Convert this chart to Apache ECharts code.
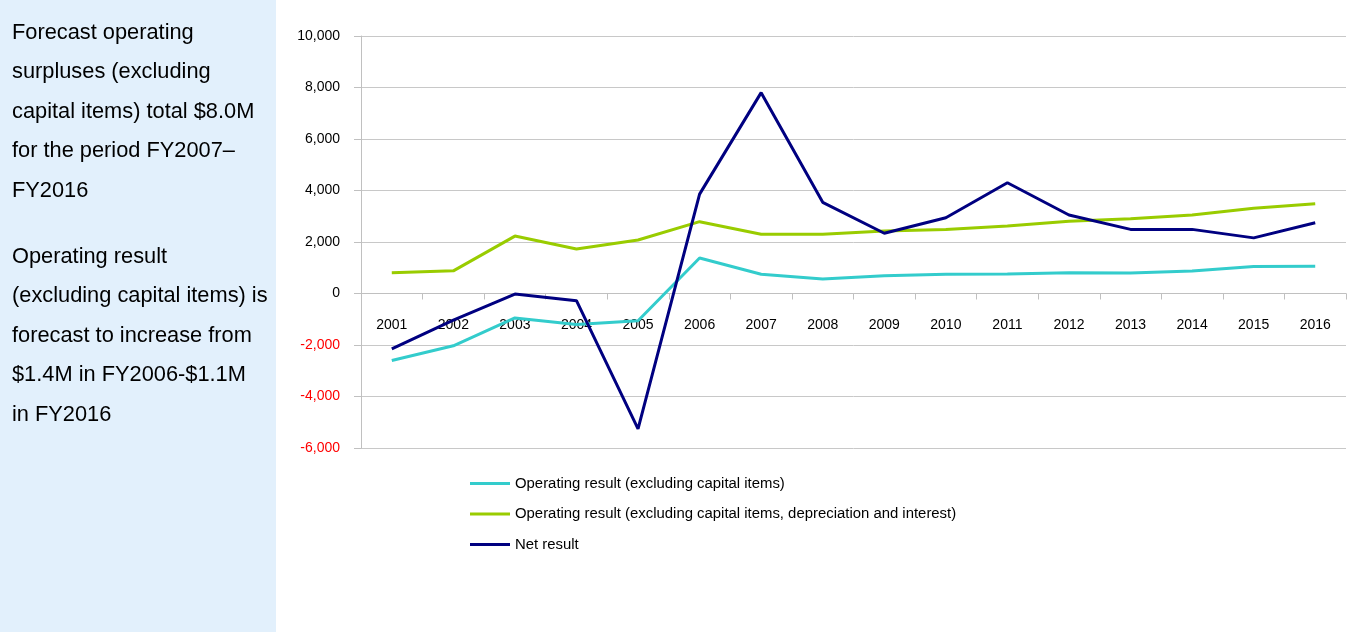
<!DOCTYPE html>
<html>
<head>
<meta charset="utf-8">
<script src="https://cdn.jsdelivr.net/npm/echarts@6/dist/echarts.min.js"></script>
<style>
  html, body { margin: 0; padding: 0; background: #ffffff; }
  #chart { width: 1351px; height: 632px; }
</style>
</head>
<body>
<div id="chart"></div>
<script>
// Financial years along the x-axis
const years = ['2001','2002','2003','2004','2005','2006','2007','2008','2009','2010','2011','2012','2013','2014','2015','2016'];

// Results in $'000
const operatingResult = [-2600, -2030, -950, -1200, -1060, 1380, 750, 560, 690, 750, 760, 810, 800, 870, 1050, 1060];
const operatingResultExDepInt = [810, 880, 2230, 1730, 2080, 2790, 2300, 2300, 2430, 2490, 2620, 2810, 2900, 3050, 3310, 3490];
const netResult = [-2150, -1030, -20, -280, -5260, 3860, 7800, 3540, 2340, 2940, 4300, 3050, 2490, 2490, 2160, 2750];

const seriesNames = [
  'Operating result (excluding capital items)',
  'Operating result (excluding capital items, depreciation and interest)',
  'Net result'
];
const seriesColors = ['#33CCCC', '#99CC00', '#000080'];

// Commentary shown in the side panel
const notes = [
  'Forecast operating\nsurpluses (excluding\ncapital items) total $8.0M\nfor the period FY2007\u2013\nFY2016',
  'Operating result\n(excluding capital items) is\nforecast to increase from\n$1.4M in FY2006-$1.1M\nin FY2016'
];

const FONT = '"Liberation Sans", Arial, sans-serif';

function fmt(v) {
  const s = Math.abs(v).toString().replace(/\B(?=(\d{3})+(?!\d))/g, ',');
  return (v < 0 ? '-' : '') + s;
}

const chart = echarts.init(document.getElementById('chart'), null, { renderer: 'canvas' });

const dataSets = [operatingResult, operatingResultExDepInt, netResult];

chart.setOption({
  animation: false,
  backgroundColor: '#ffffff',
  graphic: [
    {
      type: 'rect',
      left: 0, top: 0,
      shape: { x: 0, y: 0, width: 276, height: 632 },
      style: { fill: '#e2f0fc' },
      z: -10
    },
    {
      type: 'text',
      left: 12, top: 13,
      style: {
        text: notes[0],
        font: '21.8px ' + FONT,
        fill: '#000000',
        lineHeight: 39.5
      }
    },
    {
      type: 'text',
      left: 12, top: 237,
      style: {
        text: notes[1],
        font: '21.8px ' + FONT,
        fill: '#000000',
        lineHeight: 39.5
      }
    }
  ],
  grid: { left: 361, right: 5, top: 36, bottom: 184, containLabel: false },
  legend: {
    orient: 'vertical',
    left: 470,
    top: 476,
    padding: 0,
    icon: 'rect',
    itemWidth: 40,
    itemHeight: 3,
    itemGap: 15.5,
    textStyle: { fontFamily: FONT, fontSize: 14.9, color: '#000000' },
    data: seriesNames
  },
  xAxis: {
    type: 'category',
    data: years,
    boundaryGap: true,
    axisLine: { onZero: true, lineStyle: { color: '#c0c0c0', width: 1 } },
    axisTick: { show: true, length: 6, inside: false, lineStyle: { color: '#c0c0c0' } },
    axisLabel: { margin: -130, fontFamily: FONT, fontSize: 14, color: '#000000' },
    splitLine: { show: false }
  },
  yAxis: {
    type: 'value',
    min: -6000,
    max: 10000,
    interval: 2000,
    axisLine: { show: true, lineStyle: { color: '#c0c0c0', width: 1 } },
    axisTick: { show: true, length: 7, lineStyle: { color: '#c0c0c0' } },
    axisLabel: {
      margin: 21,
      fontFamily: FONT,
      fontSize: 14,
      formatter: fmt,
      color: function (v) { return Number(v) < 0 ? '#ff0000' : '#000000'; }
    },
    splitLine: { show: true, lineStyle: { color: '#c8c8c8', width: 1 } }
  },
  series: seriesNames.map((name, i) => ({
    name: name,
    type: 'line',
    data: dataSets[i],
    symbol: 'none',
    lineStyle: { color: seriesColors[i], width: 3 },
    itemStyle: { color: seriesColors[i] },
    z: 3 + i
  }))
});
</script>
</body>
</html>
